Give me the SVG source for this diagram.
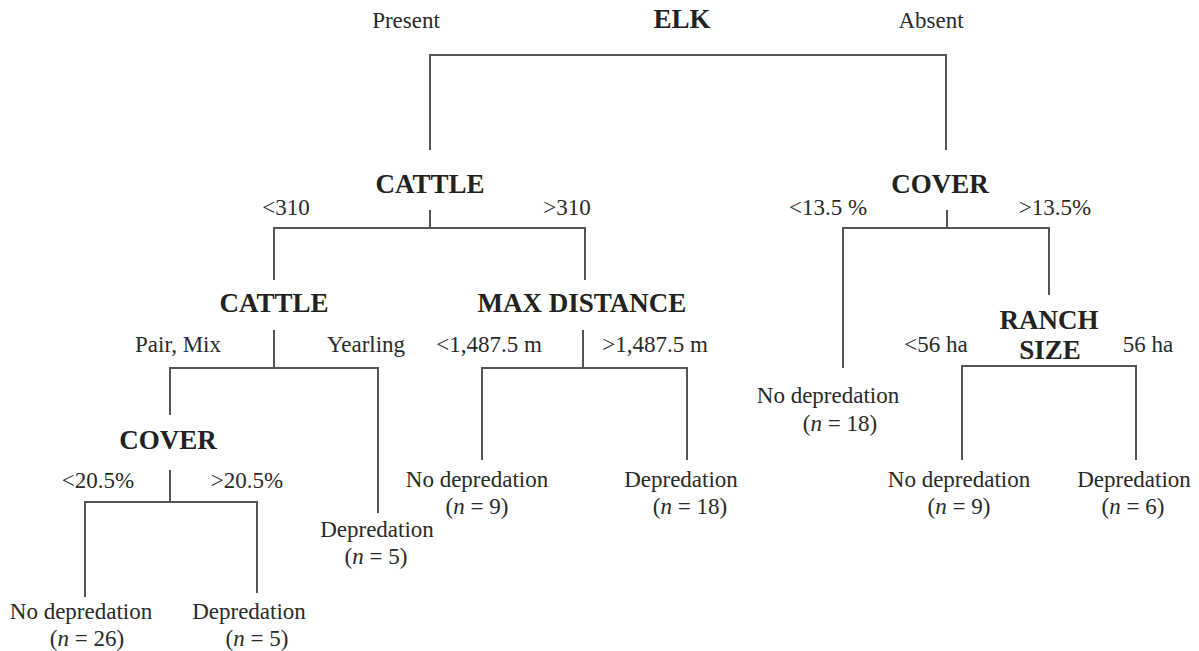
<svg xmlns="http://www.w3.org/2000/svg" width="1199" height="651" viewBox="0 0 1199 651">
<style>
text{font-family:"Liberation Serif","Times New Roman",serif;fill:#222;text-anchor:middle}
.t{font-size:23px;fill:#2a2a2a}
.b{font-size:27px;font-weight:bold}
.c path{fill:none;stroke:#555;stroke-width:2}
</style>
<rect width="1199" height="651" fill="#fff"/>
<g class="c" id="connectors">
<path d="M430 150V55H946V150"/>
<path d="M430 210V228M274 280V228H585V280"/>
<path d="M947 210V228M843 368V228H1049V295"/>
<path d="M274 330V368M170 415V368H378V513"/>
<path d="M583 330V368M482 460V368H687V460"/>
<path d="M962 460V366H1136V460"/>
<path d="M170 470V502M85 597V502H257V593"/>
</g>
<g id="elk"><text class="t" x="406" y="28">Present</text><text class="b" x="682" y="28">ELK</text><text class="t" x="931" y="28">Absent</text></g>
<g id="cattle1"><text class="b" x="430" y="193">CATTLE</text><text class="t" x="286" y="215">&lt;310</text><text class="t" x="567" y="215">&gt;310</text></g>
<g id="cover1"><text class="b" x="940" y="193">COVER</text><text class="t" x="828" y="215">&lt;13.5 %</text><text class="t" x="1055" y="215">&gt;13.5%</text></g>
<g id="cattle2"><text class="b" x="274" y="312">CATTLE</text><text class="t" x="178" y="352">Pair, Mix</text><text class="t" x="366" y="352">Yearling</text></g>
<g id="maxdist"><text class="b" x="582" y="312">MAX DISTANCE</text><text class="t" x="489" y="352">&lt;1,487.5 m</text><text class="t" x="655" y="352">&gt;1,487.5 m</text></g>
<g id="ranch"><text class="b" x="1049" y="329">RANCH</text><text class="b" x="1050" y="359">SIZE</text><text class="t" x="936" y="352">&lt;56 ha</text><text class="t" x="1148" y="352">56 ha</text></g>
<g id="cover2"><text class="b" x="168" y="449">COVER</text><text class="t" x="98" y="488">&lt;20.5%</text><text class="t" x="247" y="488">&gt;20.5%</text></g>
<g id="leaf1"><text class="t" x="828" y="403">No depredation</text><text class="t" x="840" y="431">(<tspan font-style="italic">n</tspan> = 18)</text></g>
<g id="leaf2"><text class="t" x="477" y="487">No depredation</text><text class="t" x="477" y="514">(<tspan font-style="italic">n</tspan> = 9)</text></g>
<g id="leaf3"><text class="t" x="681" y="487">Depredation</text><text class="t" x="690" y="514">(<tspan font-style="italic">n</tspan> = 18)</text></g>
<g id="leaf4"><text class="t" x="959" y="487">No depredation</text><text class="t" x="959" y="514">(<tspan font-style="italic">n</tspan> = 9)</text></g>
<g id="leaf5"><text class="t" x="1134" y="487">Depredation</text><text class="t" x="1133" y="514">(<tspan font-style="italic">n</tspan> = 6)</text></g>
<g id="leaf6"><text class="t" x="377" y="537">Depredation</text><text class="t" x="376" y="564">(<tspan font-style="italic">n</tspan> = 5)</text></g>
<g id="leaf7"><text class="t" x="81" y="619">No depredation</text><text class="t" x="87" y="646">(<tspan font-style="italic">n</tspan> = 26)</text></g>
<g id="leaf8"><text class="t" x="249" y="619">Depredation</text><text class="t" x="257" y="646">(<tspan font-style="italic">n</tspan> = 5)</text></g>
</svg>
